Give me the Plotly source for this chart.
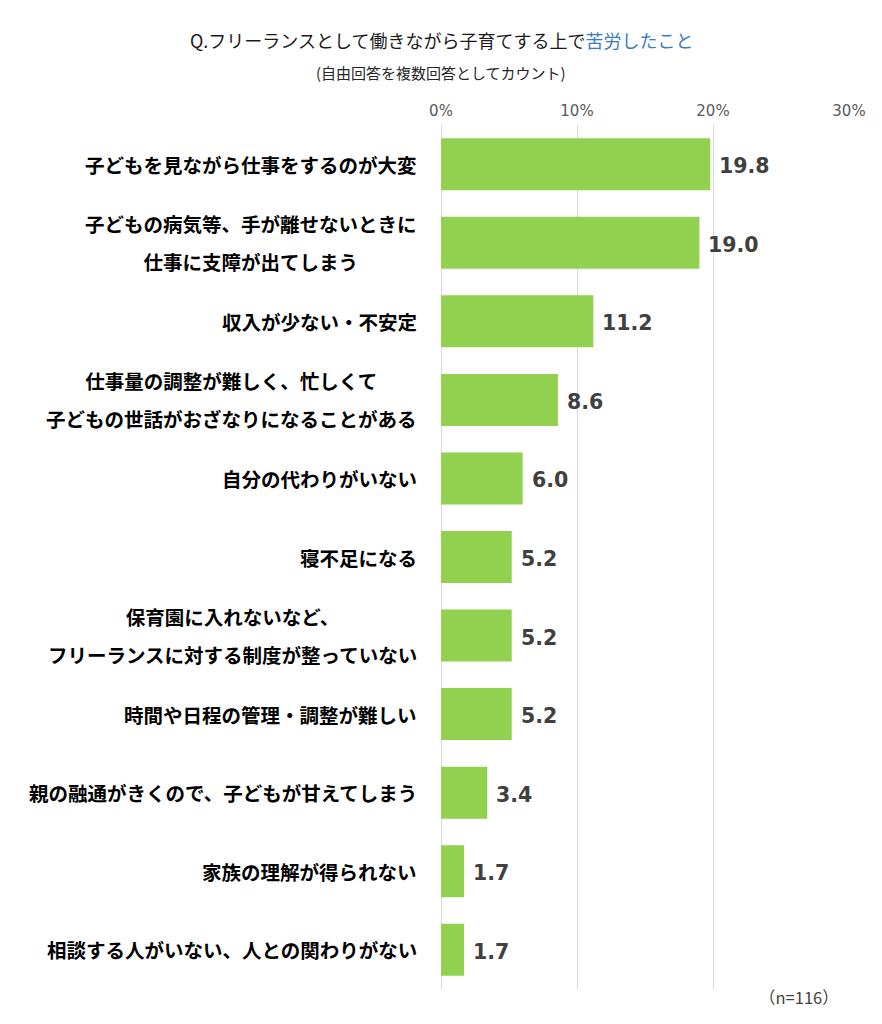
import plotly.graph_objects as go

categories = [
    "子どもを見ながら仕事をするのが大変",
    "子どもの病気等、手が離せないときに\n仕事に支障が出てしまう",
    "収入が少ない・不安定",
    "仕事量の調整が難しく、忙しくて\n子どもの世話がおざなりになることがある",
    "自分の代わりがいない",
    "寝不足になる",
    "保育園に入れないなど、\nフリーランスに対する制度が整っていない",
    "時間や日程の管理・調整が難しい",
    "親の融通がきくので、子どもが甘えてしまう",
    "家族の理解が得られない",
    "相談する人がいない、人との関わりがない",
]
values = [19.8, 19.0, 11.2, 8.6, 6.0, 5.2, 5.2, 5.2, 3.4, 1.7, 1.7]
tick_vals = [0, 10, 20, 30]
tick_text = ["0%", "10%", "20%", "30%"]
title_main = "Q.フリーランスとして働きながら子育てする上で"
title_blue = "苦労したこと"
subtitle = "(自由回答を複数回答としてカウント)"
note = "（n=116）"

JP = "Meiryo, 'Noto Sans CJK JP', sans-serif"
NUM = "Verdana, 'DejaVu Sans', sans-serif"

# page has an 8px body margin; size the figure to fit inside the window
W, H = 874, 1016
OFF = 8
L, R, T, B = 441 - OFF, 33, 125 - OFF, 35
pw, ph = W - L - R, H - T - B


def px_x(px):
    return (px - OFF - L) / pw


def px_y(py):
    return 1 - (py - OFF - T) / ph


fig = go.Figure()
fig.add_trace(go.Bar(
    x=values, y=categories, orientation="h",
    marker=dict(color="#92D050", line=dict(width=0)),
    hoverinfo="skip",
))

annotations = []
for cat, v in zip(categories, values):
    lines = cat.split("\n")
    txt = "<br>".join(f"<span style='font-size:19.5px'><b>{l}</b></span>" for l in lines)
    annotations.append(dict(
        x=0, xref="paper", y=cat, yref="y", text=txt, showarrow=False,
        xanchor="right", yanchor="middle", align="center", xshift=-22,
        font=dict(family=JP, size=29, color="#000000"),
    ))
    annotations.append(dict(
        x=v, xref="x", y=cat, yref="y", text=f"<b>{v:.1f}</b>", showarrow=False,
        xanchor="left", yanchor="middle", xshift=7, yshift=-2,
        font=dict(family=NUM, size=20.5, color="#404040"),
    ))

annotations.append(dict(
    x=px_x(441), xref="paper", y=px_y(40), yref="paper",
    xanchor="center", yanchor="middle",
    text=f"{title_main}<span style='color:#3B7BC4'>{title_blue}</span>",
    showarrow=False, font=dict(family=JP, size=18, color="#1a1a1a"),
))
annotations.append(dict(
    x=px_x(441), xref="paper", y=px_y(72), yref="paper",
    xanchor="center", yanchor="middle", text=subtitle, showarrow=False,
    font=dict(family=JP, size=15, color="#262626"),
))
annotations.append(dict(
    x=px_x(799), xref="paper", y=px_y(997), yref="paper",
    xanchor="center", yanchor="middle", text=note, showarrow=False,
    font=dict(family="'Noto Sans CJK JP', sans-serif", size=16.5, color="#404040"),
))

fig.update_layout(
    width=W, height=H,
    margin=dict(l=L, r=R, t=T, b=B, pad=0),
    paper_bgcolor="white", plot_bgcolor="white",
    bargap=0.338,
    showlegend=False,
    annotations=annotations,
    xaxis=dict(
        range=[0, 30], side="top", tickvals=tick_vals, ticktext=tick_text,
        showgrid=True, gridcolor="#D9D9D9", gridwidth=1,
        zeroline=True, zerolinecolor="#D9D9D9", zerolinewidth=1,
        showline=False, ticks="", ticklabelstandoff=5, automargin=False,
        tickfont=dict(family=NUM, size=15, color="#595959"),
        fixedrange=True,
    ),
    yaxis=dict(
        autorange="reversed", showticklabels=False, showgrid=False,
        zeroline=False, showline=False, ticks="", fixedrange=True,
        automargin=False,
    ),
)

fig.write_html("out.html")
